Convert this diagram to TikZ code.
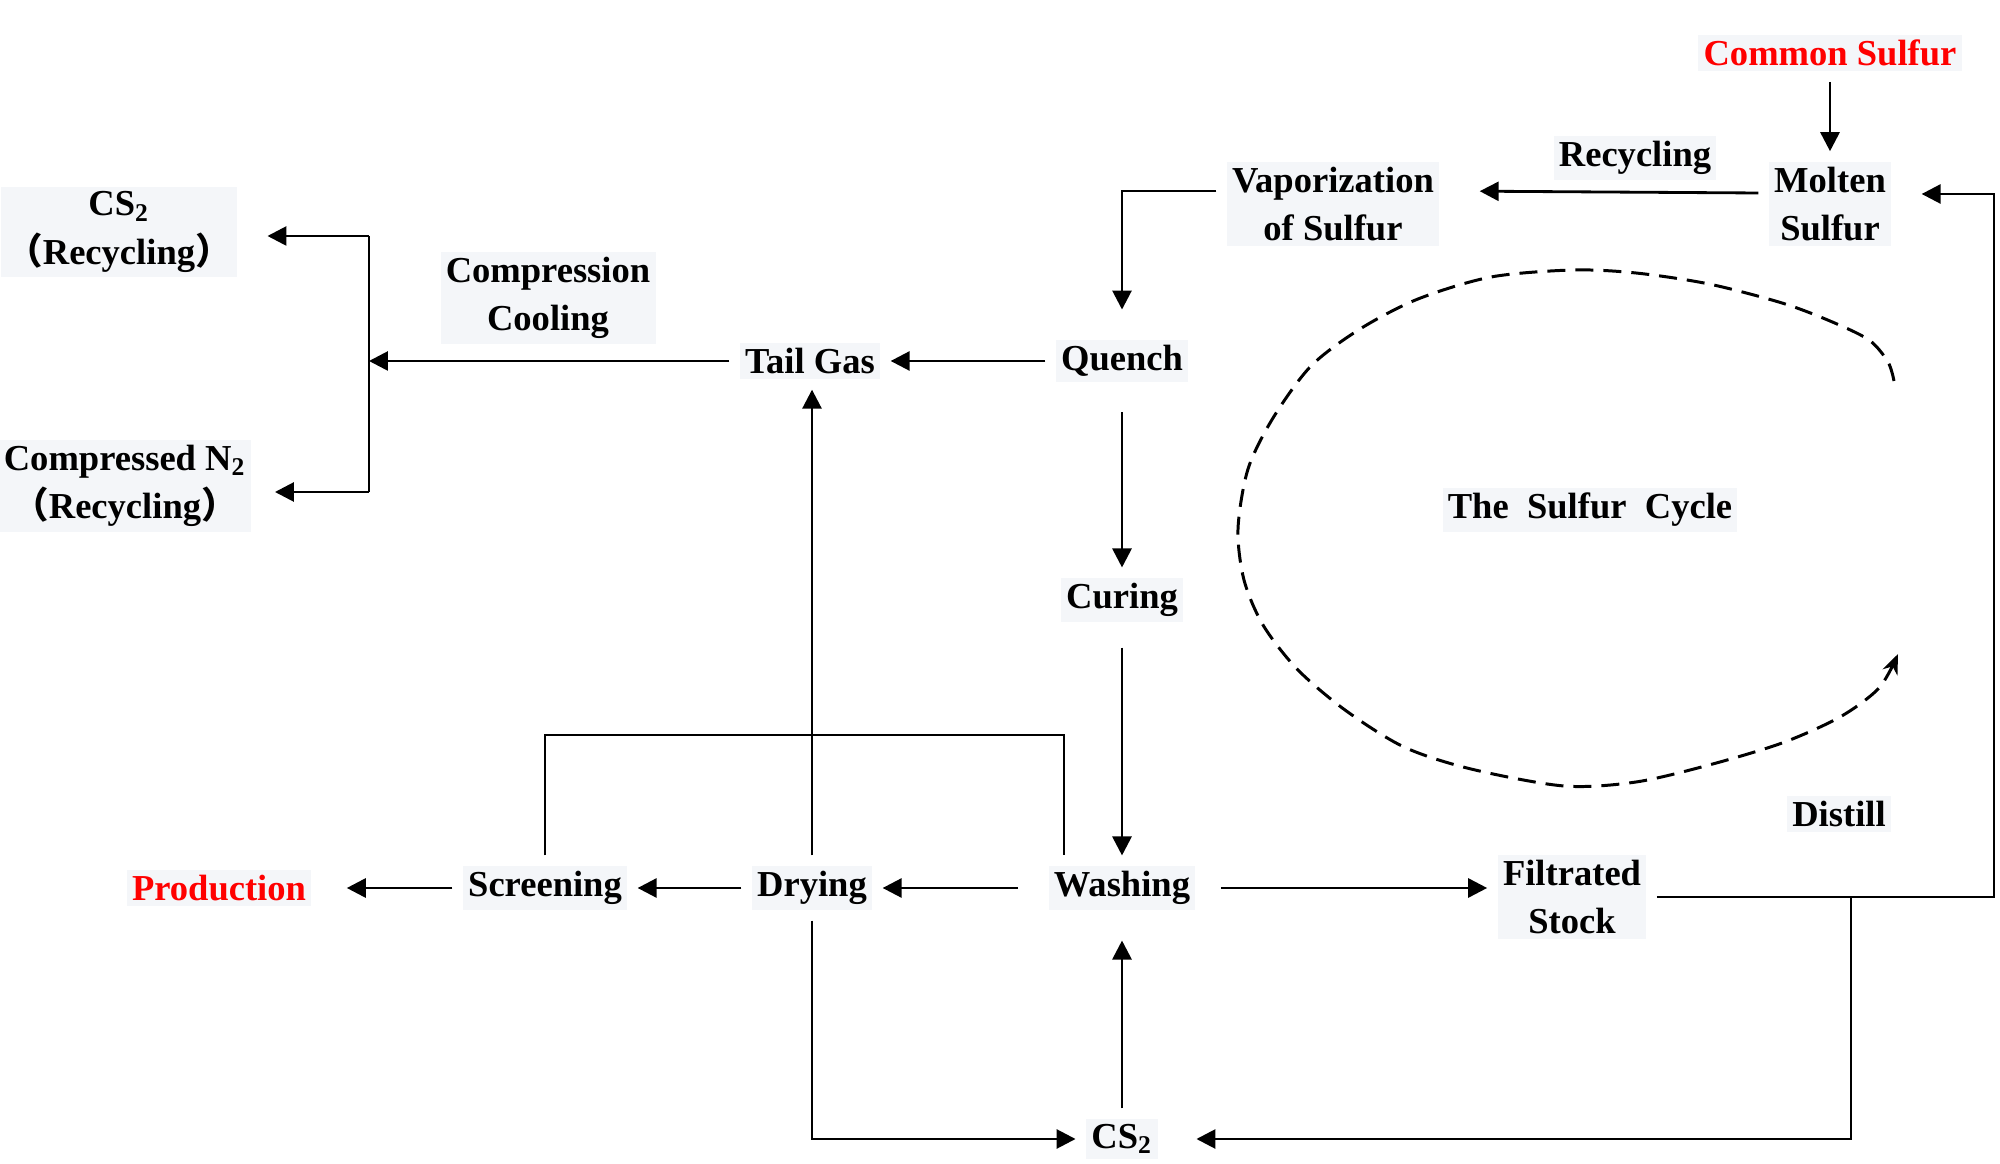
\documentclass[tikz,border=0pt]{standalone}
\usepackage{fontspec}
\setmainfont{Liberation Serif}
\newfontfamily\cjk{Noto Sans CJK SC}
\usetikzlibrary{arrows.meta}
\definecolor{labelbg}{RGB}{244,246,249}

\begin{document}
\begin{tikzpicture}[node distance=3cm,>={Triangle[length=5.4pt,width=5.4pt]},line width=0.8pt]
        \tikzstyle{stage}=[font=\fontsize{10.4}{13.7}\selectfont\bfseries,fill=labelbg,inner sep=1.5pt,outer sep=3pt,align=center]
        \tikzstyle{product}=[stage,text=red]
        \tikzstyle{loopline}=[dash pattern=on 1.8mm off 1mm,line width=0.85pt]
        \useasboundingbox (0,0) rectangle (20,-11.64);
        \begin{scope}
        \node[stage](tail) at (8.10,-3.61){Tail Gas};
        \node[stage,node distance=3.12cm,right of=tail](quench){Quench}
            edge [->] (tail);
        \node[stage,node distance=2.39cm,below of=quench](curing){Curing};
        \node[stage,node distance=2.88cm,below of=curing](washing){Washing};
        \node[stage,node distance=2.51cm,below of=washing](cs2){CS\textsubscript{2}};
        \node[stage,node distance=3.10cm,left of=washing](drying){Drying};
        \node[stage,node distance=2.67cm,left of=drying](screening){Screening};
        \node[product,node distance=3.26cm,left of=screening](production){Production};
        \node[stage,node distance=4.50cm,right of=washing,yshift=-0.09cm](filtrated){Filtrated\\Stock};
        \node[stage,node distance=1.57cm,above of=quench,xshift=2.11cm](vapor){Vaporization\\of Sulfur};
        \node[stage,node distance=4.97cm,right of=vapor](molten){Molten\\Sulfur};
        \node[product,node distance=1.51cm,above of=molten](common){Common Sulfur};
        \node[stage,node distance=2.62cm,left of=tail,yshift=0.63cm](compress){Compression\\Cooling};
        \node[stage](cs2rec) at (1.19,-2.32){CS\textsubscript{2}\\{\cjk （}Recycling{\cjk ）}};
        \node[stage](n2rec) at (1.25,-4.86){Compressed N\textsubscript{2}\\{\cjk （}Recycling{\cjk ）}};
        \node[stage](recycle) at (16.35,-1.58){Recycling};
        \node[stage](distill) at (18.39,-8.14){Distill};
        \node[stage](cycle) at (15.90,-5.10){The~~Sulfur~~Cycle};

        \coordinate (split) at (3.69,-3.61);
        \coordinate (splittop) at (3.69,-2.36);
        \coordinate (splitbot) at (3.69,-4.92);
        \coordinate (overpass) at (10.64,-7.35);
        \coordinate (loopcorner) at (19.94,-8.97);
        \coordinate (branch) at (18.51,-8.97);

        \draw[->] (common.south) -- (common.south |- molten.north);
        \draw[->,shorten >=3mm] ([yshift=1.1mm]molten.west) -- ([yshift=1.3mm]vapor.east);
        \draw[->,shorten >=2mm] ([yshift=1.3mm]vapor.west) -| (quench.north);
        \draw[->] (tail) -- (split);
        \draw (splittop) -- (splitbot);
        \draw[->,shorten >=2mm] (splittop) -- (splittop -| cs2rec.east);
        \draw[->,shorten >=1.3mm] (splitbot) -- (splitbot -| n2rec.east);
        \draw[->,shorten <=2mm] (quench) -- (curing);
        \draw[->,shorten <=1.5mm] (curing) -- (washing);
        \draw[->,shorten <=1.5mm] (washing.east) -- (washing.east -| filtrated.west);
        \draw[->,shorten <=2mm] (washing) -- (drying);
        \draw[->] (drying) -- (screening);
        \draw[->,shorten >=2.5mm] (screening) -- (production);
        \draw[->] (drying.north) -- (drying.north |- tail.south);
        \draw (screening.north) |- (overpass) -- (overpass |- washing.north);
        \draw[->] (drying.south) |- (cs2.west);
        \draw[->,shorten >=2mm] (cs2.north) -- (cs2.north |- washing.south);
        \draw[->,shorten >=2mm] (filtrated.east) -- (filtrated.east -| loopcorner) |- ([yshift=1mm]molten.east);
        \draw[->,shorten >=2.8mm] (filtrated.east -| branch) |- (cs2.east);
        \draw[loopline,-{Stealth[length=2mm,width=1.6mm]}] plot[smooth] coordinates {(18.94,-3.81) (18.88,-3.62) (18.69,-3.40) (18.30,-3.21) (17.82,-3.03) (17.09,-2.84) (16.36,-2.73) (15.73,-2.70) (14.91,-2.77) (14.18,-2.99) (13.60,-3.29) (13.11,-3.66) (12.73,-4.18) (12.48,-4.69) (12.38,-5.29) (12.44,-5.80) (12.63,-6.25) (12.97,-6.69) (13.45,-7.10) (14.04,-7.47) (14.71,-7.69) (15.64,-7.86) (16.36,-7.82) (17.09,-7.65) (17.82,-7.43) (18.40,-7.17) (18.79,-6.88) (18.98,-6.54)};
        \end{scope}
\end{tikzpicture}
\end{document}
